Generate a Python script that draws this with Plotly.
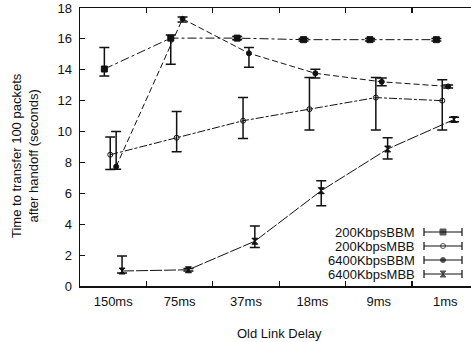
import plotly.graph_objects as go

categories = ["150ms", "75ms", "37ms", "18ms", "9ms", "1ms"]
series_names = ["200KbpsBBM", "200KbpsMBB", "6400KbpsBBM", "6400KbpsMBB"]

bbm200 = [14.05, 16.05, 16.05, 15.95, 15.95, 15.95]
bbm200_plus = [1.4, 0.2, 0.1, 0.08, 0.08, 0.08]
bbm200_minus = [0.45, 1.7, 0.1, 0.08, 0.08, 0.08]

mbb200 = [8.5, 9.6, 10.7, 11.45, 12.2, 12.0]
mbb200_plus = [1.15, 1.7, 1.5, 2.05, 1.3, 1.35]
mbb200_minus = [0.95, 0.9, 1.15, 1.35, 2.1, 1.9]

bbm6400 = [7.73, 17.3, 15.07, 13.77, 13.22, 12.92]
bbm6400_plus = [2.27, 0.12, 0.38, 0.27, 0.25, 0.1]
bbm6400_minus = [0.17, 0.2, 0.9, 0.3, 0.25, 0.1]

mbb6400 = [0.97, 1.05, 2.9, 6.17, 8.87, 10.78]
mbb6400_plus = [0.97, 0.08, 0.98, 0.65, 0.73, 0.15]
mbb6400_minus = [0.13, 0.08, 0.4, 0.97, 0.65, 0.15]

y_ticks = [0, 2, 4, 6, 8, 10, 12, 14, 16, 18]

FONT = "Liberation Sans, Arial, sans-serif"
INK = "#111111"

values = [bbm200, mbb200, bbm6400, mbb6400]
plus = [bbm200_plus, mbb200_plus, bbm6400_plus, mbb6400_plus]
minus = [bbm200_minus, mbb200_minus, bbm6400_minus, mbb6400_minus]
symbols = ["square", "circle-open", "circle", "hourglass"]
sizes = [6, 5, 5, 6]
dashes = ["9px,3px,3px,3px", "8px,2px,3px,2px", "6px,3px", "12px,2px"]

fig = go.Figure()
for name, v, p, m, sym, sz, d in zip(series_names, values, plus, minus, symbols, sizes, dashes):
    fig.add_trace(go.Scatter(
        x=categories, y=v, name=name, mode="lines+markers",
        line=dict(color=INK, width=1, dash=d),
        marker=dict(symbol=sym, size=sz, color=INK, line=dict(color=INK, width=1)),
        error_y=dict(type="data", symmetric=False, array=p, arrayminus=m,
                     color=INK, thickness=1.5, width=5),
        showlegend=False, cliponaxis=False,
    ))

W, H = 471, 342
L, R, T, B = 80, 471, 8, 286          # plot area in page pixels
leg_rows = [232, 246, 260, 274]
fig.add_trace(go.Scatter(
    x=[443] * 4, y=leg_rows, xaxis="x2", yaxis="y2", mode="markers",
    marker=dict(symbol=symbols, size=sizes, color=INK, line=dict(color=INK, width=1)),
    error_x=dict(type="constant", value=19, color=INK, thickness=1.2, width=4),
    showlegend=False, hoverinfo="skip",
))

annotations = []
for name, yy in zip(series_names, leg_rows):
    annotations.append(dict(x=417, y=yy, xref="x2", yref="y2", text=name, showarrow=False,
                            xanchor="right", yanchor="middle",
                            font=dict(family=FONT, size=13, color=INK)))
annotations.append(dict(x=(25 - L) / (R - L), y=(B - 156) / (B - T), xref="paper", yref="paper",
                        text="Time to transfer 100 packets<br>after handoff (seconds)",
                        textangle=-90, showarrow=False, xanchor="center", yanchor="middle",
                        font=dict(family=FONT, size=13, color=INK)))
annotations.append(dict(x=(279 - L) / (R - L), y=(B - 333) / (B - T), xref="paper", yref="paper",
                        text="Old Link Delay", showarrow=False, xanchor="center", yanchor="middle",
                        font=dict(family=FONT, size=13, color=INK)))

cat_px = 66.4
fig.update_layout(
    width=W, height=H,
    margin=dict(l=L, r=W - R, t=T, b=H - B, pad=0),
    paper_bgcolor="white", plot_bgcolor="white",
    scattermode="group", scattergap=0.645,
    font=dict(family=FONT, size=13, color=INK),
    hovermode=False,
    xaxis=dict(type="category", categoryorder="array", categoryarray=categories,
               range=[-0.5, -0.5 + (R - L) / cat_px],
               tickson="boundaries", ticks="inside", ticklen=5, tickwidth=1.2, tickcolor=INK,
               showline=True, linecolor=INK, linewidth=1.5, mirror="ticks",
               showgrid=False, zeroline=False, ticklabelstandoff=3,
               tickfont=dict(family=FONT, size=13, color=INK)),
    yaxis=dict(range=[0, 18], tickvals=y_ticks, ticks="inside", ticklen=5, tickwidth=1.2,
               tickcolor=INK, showline=True, linecolor=INK, linewidth=1.5,
               showgrid=False, zeroline=False, ticklabelstandoff=4,
               tickfont=dict(family=FONT, size=13, color=INK)),
    xaxis2=dict(overlaying="x", range=[L, R], visible=False),
    yaxis2=dict(overlaying="y", range=[B, T], visible=False),
    annotations=annotations,
)

fig.write_html(
    "out.html",
    config={"displayModeBar": False, "staticPlot": True},
    post_script="document.body.style.margin='0';document.body.style.overflow='hidden';",
)
